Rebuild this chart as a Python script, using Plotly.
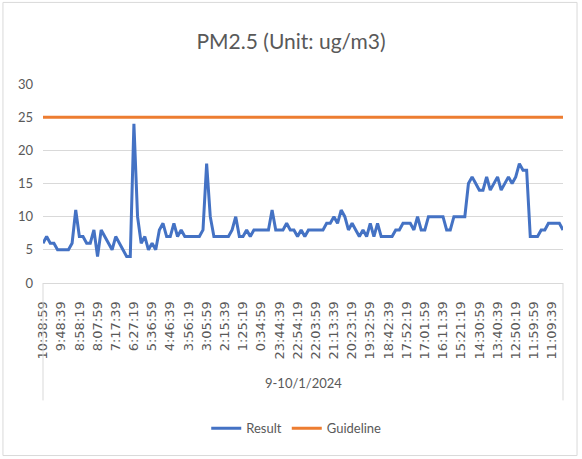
from datetime import datetime, timedelta
import plotly.graph_objects as go

# PM2.5 readings, 10-minute-ish steps, newest first
result = [
    6, 7, 6, 6, 5, 5, 5, 5, 6, 11,
    7, 7, 6, 6, 8, 4, 8, 7, 6, 5,
    7, 6, 5, 4, 4, 24, 10, 6, 7, 5,
    6, 5, 8, 9, 7, 7, 9, 7, 8, 7,
    7, 7, 7, 7, 8, 18, 10, 7, 7, 7,
    7, 7, 8, 10, 7, 7, 8, 7, 8, 8,
    8, 8, 8, 11, 8, 8, 8, 9, 8, 8,
    7, 8, 7, 8, 8, 8, 8, 8, 9, 9,
    10, 9, 11, 10, 8, 9, 8, 7, 8, 7,
    9, 7, 9, 7, 7, 7, 7, 8, 8, 9,
    9, 9, 8, 10, 8, 8, 10, 10, 10, 10,
    10, 8, 8, 10, 10, 10, 10, 15, 16, 15,
    14, 14, 16, 14, 15, 16, 14, 15, 16, 15,
    16, 18, 17, 17, 7, 7, 7, 8, 8, 9,
    9, 9, 9, 8,
]
guideline_value = 25
guideline = [guideline_value] * len(result)

# time stamps, first reading and step between readings
start = datetime(2024, 10, 1, 10, 38, 59)
step = timedelta(minutes=10, seconds=4)
times = [start - step * i for i in range(len(result))]
labels = [f"{t.hour}:{t.minute:02d}:{t.second:02d}" for t in times]
group_label = "9-10/1/2024"

x = list(range(len(result)))
tick_idx = x[::5]

font = "Lato, 'Open Sans', sans-serif"
grey = "#595959"

fig = go.Figure()
fig.add_trace(go.Scatter(x=x, y=result, name="Result", mode="lines",
                         line=dict(color="#4472C4", width=3)))
fig.add_trace(go.Scatter(x=x, y=guideline, name="Guideline", mode="lines",
                         line=dict(color="#ED7D31", width=3)))

fig.update_layout(
    width=582, height=459,
    margin=dict(l=43, r=19, t=84, b=176),
    paper_bgcolor="white", plot_bgcolor="white",
    font=dict(family=font, color=grey, size=12),
    title=dict(text="PM2.5 (Unit: ug/m3)", x=0.5, xanchor="center",
               y=0.909, yanchor="middle",
               font=dict(size=21, color=grey)),
    showlegend=True,
    legend=dict(orientation="h", x=0.487, xanchor="center", y=-0.73, yanchor="middle",
                font=dict(size=13, color=grey), itemwidth=30),
)
fig.update_xaxes(
    range=[0, len(result) - 1], tickvals=[x[i] for i in tick_idx],
    ticktext=[labels[i] for i in tick_idx], tickangle=-90,
    tickfont=dict(family="'DejaVu Sans', sans-serif", size=13, color=grey),
    showgrid=False, zeroline=False,
    showline=True, linecolor="#d9d9d9", linewidth=1, ticks="", fixedrange=True,
    ticklabelstandoff=12,
)
fig.update_yaxes(
    range=[0, 30], dtick=5, gridcolor="#d9d9d9", zeroline=False,
    tickfont=dict(size=13, color=grey), showline=False, ticks="",
    fixedrange=True, ticklabelstandoff=9,
)

# multi-level category box and outer label
for xp in (0, 1):
    fig.add_shape(type="line", xref="paper", yref="paper", x0=xp, x1=xp,
                  y0=0, y1=-0.59, line=dict(color="#d9d9d9", width=1))
fig.add_annotation(text=group_label, xref="paper", yref="paper", x=0.5, y=-0.505,
                   yanchor="middle", showarrow=False, font=dict(size=13, color=grey))
# chart border
fig.add_shape(type="rect", xref="paper", yref="paper", x0=-0.077, x1=1.027,
              y0=-0.867, y1=1.41, line=dict(color="#d9d9d9", width=1))

fig.write_html("out.html", config={"displayModeBar": False},
               post_script="document.body.style.margin='0';document.body.style.overflow='hidden';")
